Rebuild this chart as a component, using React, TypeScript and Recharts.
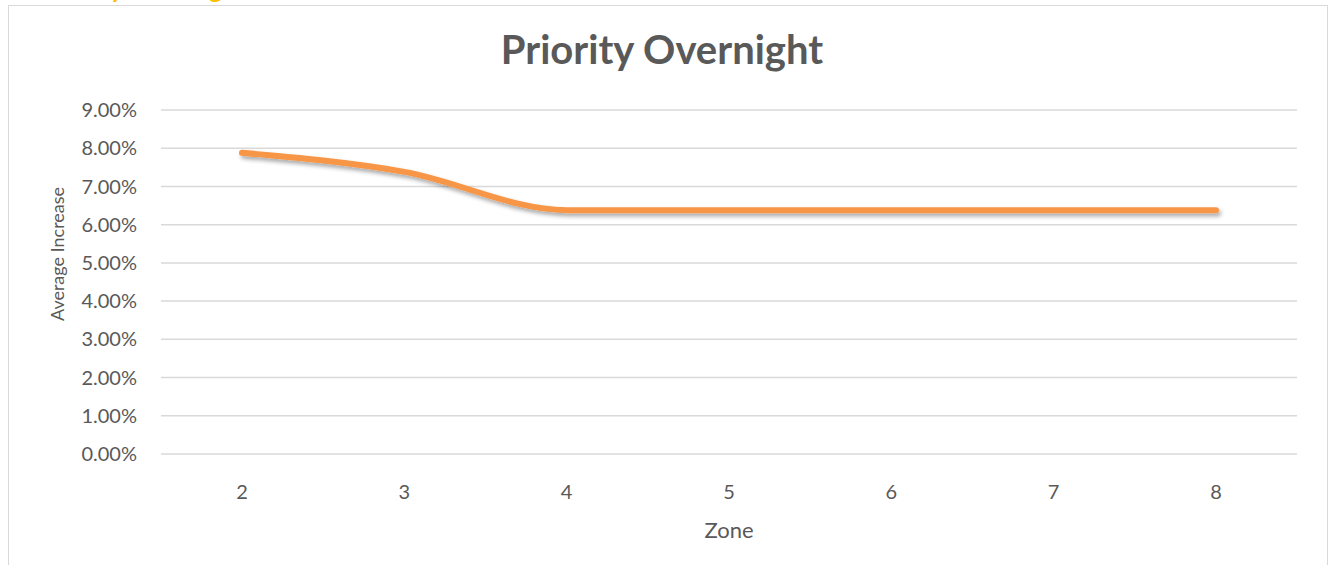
import { CartesianGrid, Label, Line, LineChart, XAxis, YAxis } from "recharts"

const zones = ["2", "3", "4", "5", "6", "7", "8"]
const averageIncrease = [0.0788, 0.0738, 0.0638, 0.0638, 0.0638, 0.0638, 0.0638]
const yTicks = [0, 0.01, 0.02, 0.03, 0.04, 0.05, 0.06, 0.07, 0.08, 0.09]

const data = zones.map((zone, i) => ({ zone, value: averageIncrease[i] }))

const font = "Lato, 'Open Sans', sans-serif"
const textColor = "#595959"

export default function App() {
  return (
    <div style={{ position: "absolute", left: 0, top: 0, width: 1328, height: 565, overflow: "hidden", background: "#fff", fontFamily: font }}>
      <svg width={1328} height={12} style={{ position: "absolute", left: 0, top: 0 }}>
        <text x={37} y={-2} fill="#FFC000" fontSize={26} fontWeight={700} fontFamily={font}>
          Priority Overnight
        </text>
      </svg>
      <div style={{ position: "absolute", left: 8, top: 5, width: 1318, height: 700, border: "1px solid #d9d9d9" }} />
      <div style={{ position: "absolute", left: 0, top: 0 }}>
        <LineChart width={1328} height={565} data={data} margin={{ top: 110, right: 31, bottom: 0, left: 61 }}>
          <defs>
            <filter id="lineShadow" x="-5%" y="-50%" width="110%" height="200%">
              <feDropShadow dx="2" dy="3" stdDeviation="2" floodColor="#000" floodOpacity="0.35" />
            </filter>
          </defs>
          <text x={662} y={64} textAnchor="middle" fill={textColor} fontSize={40} fontWeight={700} fontFamily={font}>
            Priority Overnight
          </text>
          <CartesianGrid vertical={false} stroke="#d9d9d9" strokeWidth={1.5} />
          <XAxis
            dataKey="zone"
            height={111}
            padding={{ left: 81, right: 81 }}
            axisLine={false}
            tickLine={false}
            tickSize={0}
            tickMargin={31}
            tick={{ fill: textColor, fontSize: 20, fontFamily: font }}
          >
            <Label value="Zone" position="insideBottom" offset={27} fill={textColor} fontSize={22} fontFamily={font} />
          </XAxis>
          <YAxis
            width={100}
            domain={[0, 0.09]}
            ticks={yTicks}
            interval={0}
            axisLine={false}
            tickLine={false}
            tickSize={0}
            tickMargin={24}
            tickFormatter={(v: number) => `${(v * 100).toFixed(2)}%`}
            tick={{ fill: textColor, fontSize: 20, fontFamily: font }}
          >
            <Label
              content={({ viewBox }: any) => {
                const x = viewBox.x - 4
                const y = viewBox.y + viewBox.height / 2 - 28
                return (
                  <text
                    x={x}
                    y={y}
                    transform={`rotate(-90, ${x}, ${y})`}
                    textAnchor="middle"
                    dominantBaseline="central"
                    fill={textColor}
                    fontSize={18}
                    fontFamily={font}
                  >
                    Average Increase
                  </text>
                )
              }}
            />
          </YAxis>
          <Line
            type="monotone"
            dataKey="value"
            stroke="#F79646"
            strokeWidth={6}
            strokeLinecap="round"
            dot={false}
            activeDot={false}
            filter="url(#lineShadow)"
            isAnimationActive={false}
          />
        </LineChart>
      </div>
    </div>
  )
}
